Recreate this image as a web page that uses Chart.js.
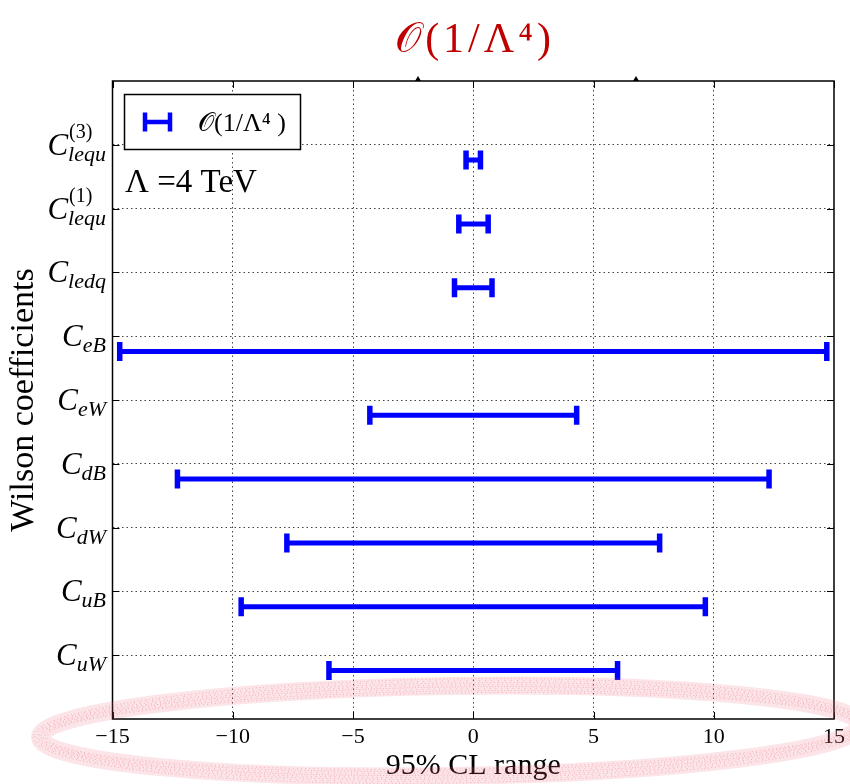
<!DOCTYPE html>
<html><head><meta charset="utf-8">
<script src="https://cdn.jsdelivr.net/npm/chart.js@4.4.1/dist/chart.umd.min.js"></script>
<style>html,body{margin:0;padding:0;background:#fff}canvas{display:block}</style>
</head><body>
<canvas id="c" width="850" height="784"></canvas>
<script>
// ---- data ----
const coeffSub = ['uW', 'uB', 'dW', 'dB', 'eW', 'eB', 'ledq', 'lequ', 'lequ'];
const coeffSup = ['', '', '', '', '', '', '', '(1)', '(3)'];
const rangeLow  = [-6.0, -9.65, -7.75, -12.3, -4.3, -14.7, -0.78, -0.6, -0.3];
const rangeHigh = [ 6.0,  9.65,  7.75,  12.3,  4.3,  14.7,  0.78, 0.62, 0.3];
const xTickValues = [-15, -10, -5, 0, 5, 10, 15];
const seriesLabel = '\u{1D4AA}(1/\u039B\u2074 )';
const titleText = '\u{1D4AA}(1/\u039B\u2074)';
const noteText = '\u039B =4 TeV';
const xTitle = '95% CL range';
const yTitle = 'Wilson coefficients';

const ROW_SHIFT = 0.24;
const SERIF = '"Liberation Serif", "DejaVu Serif", serif';
const BLUE = '#0000ff';

const datasets = coeffSub.map((s, i) => ({
  label: seriesLabel,
  data: [{x: rangeLow[i], y: i + 1 - ROW_SHIFT}, {x: rangeHigh[i], y: i + 1 - ROW_SHIFT}],
  showLine: true,
  borderColor: BLUE, backgroundColor: BLUE, borderWidth: 5, borderCapStyle: 'butt',
  pointStyle: 'line', rotation: 90, pointRadius: 9.5, pointHoverRadius: 9.5,
  pointBorderWidth: 5.5, pointBorderColor: BLUE, pointHoverBorderWidth: 5.5
}));

const decor = {
  id: 'decor',
  afterDraw(chart) {
    const ctx = chart.ctx;
    const a = chart.chartArea;
    const xs = chart.scales.x, ys = chart.scales.y;
    ctx.save();
    // frame
    ctx.strokeStyle = '#000'; ctx.lineWidth = 1.5;
    ctx.strokeRect(a.left, a.top, a.right - a.left, a.bottom - a.top);
    // inner ticks
    ctx.lineWidth = 1;
    ctx.beginPath();
    xTickValues.forEach(v => {
      const px = Math.round(xs.getPixelForValue(v)) + 0.5;
      ctx.moveTo(px, a.bottom); ctx.lineTo(px, a.bottom - 7);
      ctx.moveTo(px, a.top); ctx.lineTo(px, a.top + 7);
    });
    coeffSub.forEach((s, i) => {
      const py = Math.round(ys.getPixelForValue(i + 1)) + 0.5;
      ctx.moveTo(a.left, py); ctx.lineTo(a.left + 7, py);
      ctx.moveTo(a.right, py); ctx.lineTo(a.right - 7, py);
    });
    ctx.stroke();
    // small marks on top border
    ctx.fillStyle = '#000';
    [418, 636].forEach(x => {
      ctx.beginPath(); ctx.moveTo(x - 3, a.top); ctx.lineTo(x + 3, a.top); ctx.lineTo(x, a.top - 5); ctx.closePath(); ctx.fill();
    });
    // y category labels
    ctx.fillStyle = '#000';
    ctx.textBaseline = 'alphabetic';
    ctx.textAlign = 'left';
    coeffSub.forEach((s, i) => {
      const py = ys.getPixelForValue(i + 1);
      ctx.font = 'italic 31px ' + SERIF;
      const wC = ctx.measureText('C').width;
      ctx.font = 'italic 22px ' + SERIF;
      const wSub = ctx.measureText(s).width;
      ctx.font = '20px ' + SERIF;
      const wSup = coeffSup[i] ? ctx.measureText(coeffSup[i]).width : 0;
      const right = 106;
      const xC = right - Math.max(wSub, wSup) - wC;
      ctx.font = 'italic 31px ' + SERIF;
      ctx.fillText('C', xC, py + 10);
      ctx.font = 'italic 22px ' + SERIF;
      ctx.fillText(s, xC + wC, py + 16);
      if (coeffSup[i]) { ctx.font = '20px ' + SERIF; ctx.fillText(coeffSup[i], xC + wC + 1, py - 7); }
    });
    // legend box
    ctx.fillStyle = '#fff';
    ctx.fillRect(124.5, 94.5, 176, 55);
    ctx.strokeStyle = '#000'; ctx.lineWidth = 1.5;
    ctx.strokeRect(124.5, 94.5, 176, 55);
    ctx.strokeStyle = BLUE; ctx.lineWidth = 4.5;
    ctx.beginPath();
    ctx.moveTo(145, 122); ctx.lineTo(170, 122);
    ctx.moveTo(145, 112.5); ctx.lineTo(145, 131.5);
    ctx.moveTo(170, 112.5); ctx.lineTo(170, 131.5);
    ctx.stroke();
    ctx.fillStyle = '#000';
    ctx.font = '26px ' + SERIF;
    ctx.fillText(seriesLabel, 198, 131);
    // note
    ctx.font = '33px ' + SERIF;
    ctx.fillText(noteText, 125, 192);
    // title
    ctx.fillStyle = '#c00000';
    ctx.font = '42px ' + SERIF;
    ctx.letterSpacing = '4px';
    ctx.textAlign = 'center';
    ctx.fillText(titleText, 475, 52);
    ctx.letterSpacing = '0px';
    // hand-drawn ellipse annotation
    ctx.textAlign = 'left';
    ctx.beginPath();
    ctx.ellipse(450, 731, 410, 45, -0.015, 0, Math.PI * 2);
    ctx.strokeStyle = 'rgba(240,110,125,0.18)';
    ctx.lineWidth = 18;
    ctx.stroke();
    ctx.lineWidth = 1;
    ctx.strokeStyle = 'rgba(230,40,60,0.30)';
    const dashes = [[1, 3.1], [1, 2.3], [1, 4.7], [1, 1.9], [1, 3.7], [1, 2.9], [1, 5.3], [1, 2.6]];
    for (let k = -7; k <= 7; k += 2) {
      ctx.setLineDash(dashes[(k + 7) / 2]);
      ctx.beginPath();
      ctx.lineDashOffset = k * 1.7;
      ctx.ellipse(450, 731, 410 + k, 45 + k, -0.015, 0, Math.PI * 2);
      ctx.stroke();
    }
    ctx.restore();
  }
};

new Chart(document.getElementById('c'), {
  type: 'scatter',
  data: { datasets },
  options: {
    responsive: false,
    animation: false,
    events: [],
    layout: { padding: { left: 0, right: 13, top: 81, bottom: 0 } },
    plugins: { legend: { display: false }, tooltip: { enabled: false } },
    scales: {
      x: {
        type: 'linear', position: 'bottom', min: -15, max: 15,
        afterBuildTicks: s => { s.ticks = xTickValues.map(v => ({ value: v })); },
        afterFit: s => { s.height = 65; },
        ticks: {
          autoSkip: false, maxRotation: 0, padding: 5, color: '#000',
          font: { family: SERIF, size: 22 },
          callback: v => (v < 0 ? '\u2212' + Math.abs(v) : String(v))
        },
        grid: {
          drawTicks: false, lineWidth: 1,
          color: c => (c.tick && (c.tick.value === -15 || c.tick.value === 15)) ? 'rgba(0,0,0,0)' : '#444'
        },
        border: { display: false, dash: [1.5, 3] },
        title: { display: true, text: xTitle, color: '#000', font: { family: SERIF, size: 30 }, padding: { top: 0, bottom: 0 } }
      },
      y: {
        type: 'linear', position: 'left', min: 0, max: 10,
        afterBuildTicks: s => { s.ticks = coeffSub.map((c, i) => ({ value: i + 1 })); },
        afterFit: s => { s.width = 112.5; },
        ticks: { display: false },
        grid: { drawTicks: false, lineWidth: 1, color: '#444' },
        border: { display: false, dash: [1.5, 3] },
        title: { display: true, text: yTitle, color: '#000', font: { family: SERIF, size: 34 }, padding: { top: 4, bottom: 0 } }
      }
    }
  },
  plugins: [decor]
});
</script>
</body></html>
